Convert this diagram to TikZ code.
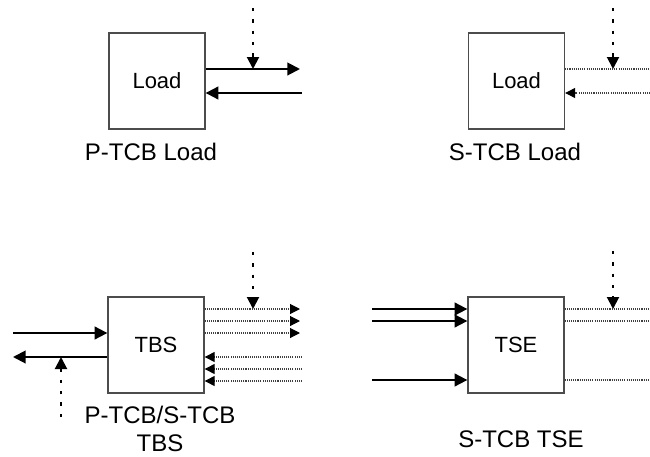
\documentclass[tikz,border=0pt]{standalone}
\usepackage{fontspec}
\setmainfont{Liberation Sans}
\usetikzlibrary{arrows.meta,positioning}

\begin{document}
\begin{tikzpicture}[x=0.75pt, y=-0.75pt,
  blk/.style={draw=black!70, line width=1pt, minimum width=72pt, minimum height=72pt,
              inner sep=0pt, font=\fontsize{16.5}{19}\selectfont},
  lbl/.style={font=\fontsize{18}{21}\selectfont, align=center, inner sep=0.5pt},
  ar/.style={-{Triangle[length=9.5pt, width=9.5pt]}, line width=1.5pt},
  sig/.style={black!75, line width=0.8pt, dash pattern=on 0.8pt off 0.8pt},
  sigar/.style={sig, -{Triangle[length=7.5pt, width=7.5pt, black]}},
  ctl/.style={-{Triangle[length=9pt, width=9pt]}, line width=1.5pt,
              dash pattern=on 2.5pt off 6pt}
]
  \useasboundingbox (0,0) rectangle (650,457);

  \node[blk] (pl)  at (157,81)    {Load};
  \node[blk] (sl)  at (516.5,81)  {Load};
  \node[blk] (tbs) at (156,345)   {TBS};
  \node[blk] (tse) at (516,345)   {TSE};

  \node[lbl, anchor=base] (plt)  at (151,160) {P-TCB Load};
  \node[lbl, anchor=base] (slt)  at (515,160) {S-TCB Load};
  \node[lbl, anchor=base] (tbst) at (160,451) {P-TCB/S-TCB\\TBS};
  \node[lbl, anchor=base] (tset) at (521,447) {S-TCB TSE};

  \coordinate (pl-o) at (300,69);
  \coordinate (pl-i) at (302,93);
  \coordinate (pl-c) at (253,8);
  \draw[ar] (pl.east |- pl-o) -- (pl-o);
  \draw[ar] (pl-i) -- (pl.east |- pl-i);
  \draw[ctl] (pl-c) -- (pl-c |- pl-o);

  \coordinate (sl-o) at (650,69);
  \coordinate (sl-i) at (650,93);
  \coordinate (sl-c) at (613,8);
  \draw[sig] (sl.east |- sl-o) -- (sl-o);
  \draw[sigar] (sl-i) -- (sl.east |- sl-i);
  \draw[ctl] (sl-c) -- (sl-c |- sl-o);

  \coordinate (tbs-a) at (13,333);
  \coordinate (tbs-b) at (13,357);
  \coordinate (tbs-c) at (61,417);
  \coordinate (tbs-d) at (253,252);
  \draw[ar] (tbs-a) -- (tbs.west |- tbs-a);
  \draw[ar] (tbs.west |- tbs-b) -- (tbs-b);
  \draw[ctl] (tbs-c) -- (tbs-c |- tbs-b);
  \foreach \y [count=\i] in {309,321,333} {
    \coordinate (tbs-o\i) at (300,\y);
    \draw[sigar] (tbs.east |- tbs-o\i) -- (tbs-o\i);
  }
  \foreach \y [count=\i] in {357,369,381} {
    \coordinate (tbs-i\i) at (302,\y);
    \draw[sigar] (tbs-i\i) -- (tbs.east |- tbs-i\i);
  }
  \draw[ctl] (tbs-d) -- (tbs-d |- tbs-o1);

  \foreach \y [count=\i] in {309,321,380} {
    \coordinate (tse-i\i) at (372,\y);
    \coordinate (tse-o\i) at (650,\y);
    \draw[ar] (tse-i\i) -- (tse.west |- tse-i\i);
    \draw[sig] (tse.east |- tse-o\i) -- (tse-o\i);
  }
  \coordinate (tse-c) at (613,251);
  \draw[ctl] (tse-c) -- (tse-c |- tse-o1);

\end{tikzpicture}
\end{document}
